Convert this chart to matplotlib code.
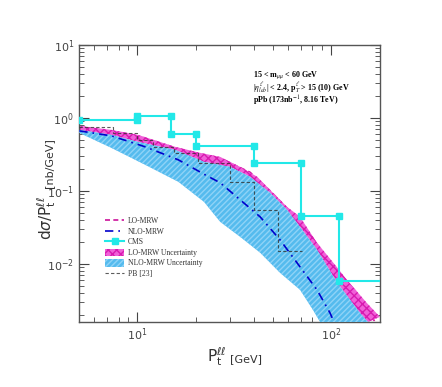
import numpy as np
import matplotlib
matplotlib.use("Agg")
import matplotlib.pyplot as plt

# ---- data ----
# LO-MRW uncertainty band (upper edge), lower edge = NLO upper edge
lo_up_x = [5.02, 7.35, 10.1, 15.7, 21.1, 26.8, 34.0, 41.6, 48.5, 59.3, 69.2, 84.7, 107, 121, 153, 179]
lo_up_y = [0.777, 0.685, 0.585, 0.401, 0.332, 0.292, 0.213, 0.156, 0.103, 0.0604, 0.044, 0.0194, 0.0091, 0.0060, 0.00292, 0.00188]

# NLO-MRW uncertainty band
nlo_up_x = [5.02, 7.35, 10.1, 15.7, 22.1, 30.2, 38.2, 48.5, 59.3, 69.2, 84.7, 107, 141, 155]
nlo_up_y = [0.685, 0.585, 0.469, 0.364, 0.25, 0.213, 0.156, 0.094, 0.055, 0.0321, 0.0156, 0.00567, 0.00213, 0.0016]
nlo_lo_x = [5.02, 7.35, 11.0, 16.3, 22.1, 26.8, 34.0, 43.1, 54.6, 69.2, 80.7, 87.8]
nlo_lo_y = [0.623, 0.388, 0.227, 0.133, 0.0707, 0.0376, 0.0234, 0.0142, 0.00753, 0.00441, 0.00234, 0.0016]

# central curves
lo_x = [5.02, 7.35, 10.1, 15.7, 21.1, 30.2, 38.2, 48.5, 59.3, 69.2, 84.7, 107, 141, 170]
lo_y = [0.73, 0.63, 0.53, 0.38, 0.29, 0.24, 0.18, 0.10, 0.058, 0.037, 0.0175, 0.0072, 0.0027, 0.0016]
nlo_x = [5.02, 7.35, 11.0, 16.3, 22.4, 26.8, 34.0, 43.1, 54.6, 69.2, 84.7, 98.8, 103.6]
nlo_y = [0.664, 0.567, 0.401, 0.266, 0.166, 0.129, 0.0753, 0.044, 0.0213, 0.0091, 0.0044, 0.00213, 0.0016]

# CMS data (bin edges / values)
cms_edges = [5, 10, 15, 20, 40, 70, 110, 200]
cms_vals = [0.94, 1.065, 0.604, 0.414, 0.242, 0.0455, 0.0059]

# PB [23]
pb_edges = [5, 7.5, 10, 12, 15.5, 20.5, 30, 40, 53, 71]
pb_vals = [0.753, 0.623, 0.50, 0.40, 0.332, 0.242, 0.133, 0.055, 0.0151]

fig = plt.figure(figsize=(4.42, 3.87), dpi=100)
ax = fig.add_axes([0.1787, 0.168, 0.681, 0.716])
H = 387.0
W = 442.0

# LO band (drawn first, NLO band on top)
ax.fill(np.concatenate([lo_up_x, nlo_up_x[::-1]]), np.concatenate([lo_up_y, nlo_up_y[::-1]]),
        facecolor='#f060d8', edgecolor='#d81ab0', hatch='xxxx', linewidth=0, zorder=2,
        label='LO-MRW Uncertainty')
ax.plot(lo_x, lo_y, color='#cc1199', ls=(0, (3, 2)), lw=1.2, zorder=1, label='LO-MRW')
ax.fill(np.concatenate([nlo_up_x, nlo_lo_x[::-1]]), np.concatenate([nlo_up_y, nlo_lo_y[::-1]]),
        facecolor='#55bbee', edgecolor='#8fd3f7', hatch='//////', linewidth=0, zorder=3,
        label='NLO-MRW Uncertainty')
ax.plot(nlo_x, nlo_y, color='#0000cc', ls=(0, (5, 3, 1, 3)), lw=1.2, zorder=4, label='NLO-MRW')

# PB step
pbx = np.repeat(pb_edges, 2)[1:-1]
pby = np.repeat(pb_vals, 2)
ax.plot(pbx, pby, color='#333333', ls=(0, (3, 2)), lw=0.8, alpha=0.8, zorder=5, label='PB [23]')

# CMS step with markers at every vertex
cx = np.repeat(cms_edges, 2)[1:-1]
cy = np.repeat(cms_vals, 2)
ax.plot(cx, cy, color='#22e8e8', lw=1.5, marker='s', ms=4, zorder=6, label='CMS')

ax.set_xscale('log')
ax.set_yscale('log')
ax.set_xlim(5, 179)
ax.set_ylim(1.6e-3, 10)

ax.tick_params(which='both', direction='in', top=True, right=True, labelsize=8, colors='#444444')
ax.tick_params(which='major', length=7, width=0.8)
ax.tick_params(which='minor', length=3.5, width=0.6)
for s in ax.spines.values():
    s.set_color('#555555')
    s.set_linewidth(1.0)

txt = dict(fontsize=5.8, family='Liberation Serif', fontweight='bold', math_fontfamily='stix',
           ha='left', va='baseline')
fig.text(253 / W, 1 - 77 / H, r'15 < m$_{\mu\mu}$ < 60 GeV', **txt)
fig.text(253 / W, 1 - 90 / H, r'|$\eta^{\ell}_{lab}$| < 2.4, p$_T^{\ell}$ > 15 (10) GeV', **txt)
fig.text(253 / W, 1 - 103.5 / H, r'pPb (173nb$^{-1}$, 8.16 TeV)', **txt)

h, l = ax.get_legend_handles_labels()
order = ['LO-MRW', 'NLO-MRW', 'CMS', 'LO-MRW Uncertainty', 'NLO-MRW Uncertainty', 'PB [23]']
hd = dict(zip(l, h))
leg = ax.legend([hd[k] for k in order], order, loc='lower left', bbox_to_anchor=(0.075, 0.145),
                frameon=False, prop={'family': 'Liberation Serif', 'size': 5.5},
                handlelength=2.4, handleheight=1.1, handletextpad=0.5,
                labelspacing=0.3, borderpad=0)
for t in leg.get_texts():
    t.set_color('#333333')

# axis titles: large symbol part + small unit part
lab_col = '#333333'
t1 = fig.text(207 / W, 1 - 362 / H, r'P$_\mathregular{t}^{\ell\ell}$', fontsize=11,
              color=lab_col, ha='left', va='baseline')
t2 = fig.text(52 / W, 1 - 240 / H, r'd$\sigma$/P$_\mathregular{t}^{\ell\ell}$', fontsize=11,
              color=lab_col, rotation=90, rotation_mode='anchor', ha='left', va='baseline')
fig.canvas.draw()
r = fig.canvas.get_renderer()
b1 = t1.get_window_extent(r)
b2 = t2.get_window_extent(r)
fig.text((b1.x1 + 3) / W, 1 - 362 / H, '[GeV]', fontsize=8, color=lab_col, ha='left', va='baseline')
fig.text(52 / W, (b2.y1 + 8) / H, '[nb/GeV]', fontsize=8, color=lab_col,
         rotation=90, rotation_mode='anchor', ha='left', va='baseline')

fig.savefig('out.png', dpi=100)
